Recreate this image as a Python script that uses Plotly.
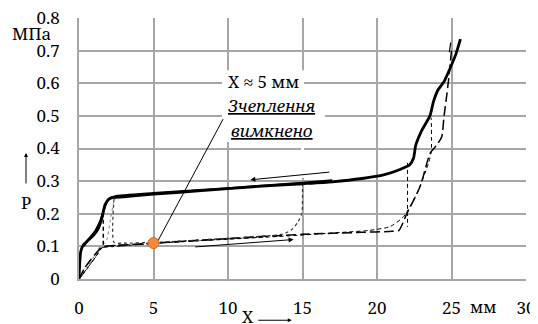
import plotly.graph_objects as go

# ---------------- data ----------------
# upper thick solid curve
up_x = [0, 0.05, 0.12, 0.3, 0.6, 1.0, 1.3, 1.55, 1.75, 2.0, 2.3, 3.0, 5.0, 8.0, 12.0, 15.0, 17.0, 19.0,
        20.5, 21.5, 22.2, 22.45, 22.6, 23.0, 23.55, 23.8, 24.1, 24.5, 24.9, 25.3, 25.6]
up_y = [0, 0.05, 0.085, 0.105, 0.118, 0.135, 0.155, 0.19, 0.228, 0.245, 0.25, 0.252, 0.26, 0.27, 0.284,
        0.292, 0.298, 0.308, 0.32, 0.335, 0.35, 0.37, 0.41, 0.455, 0.5, 0.545, 0.58, 0.605, 0.645, 0.69, 0.735]
# second (return) branch of the thick curve
up2_x = [0.3, 0.7, 1.1, 1.45, 1.65, 1.85, 2.1, 2.4, 5.0, 10.0, 15.0, 17.0]
up2_y = [0.1, 0.125, 0.148, 0.18, 0.21, 0.235, 0.248, 0.253, 0.263, 0.278, 0.295, 0.302]

# lower long-dashed curve
ld_x = [0, 0.4, 0.8, 1.2, 1.5, 2.0, 5.0, 10.0, 15.0, 19.0, 21.0, 21.45, 22.0, 22.9, 23.57, 24.0, 24.35,
        24.5, 24.7, 24.85, 25.0]
ld_y = [0, 0.035, 0.06, 0.082, 0.097, 0.101, 0.11, 0.124, 0.137, 0.143, 0.146, 0.148, 0.2, 0.284, 0.386,
        0.41, 0.437, 0.5, 0.57, 0.63, 0.70]
# small hook at the top of the long-dashed curve
hook_x = [24.85, 24.95]
hook_y = [0.695, 0.725]

# lower short-dashed curve
sd_x = [0, 0.5, 1.0, 1.4, 1.7, 3.0, 8.0, 14.0, 18.0, 19.5, 20.9, 21.8, 22.7, 23.46, 23.64, 23.64]
sd_y = [0, 0.03, 0.06, 0.088, 0.1, 0.104, 0.117, 0.132, 0.144, 0.149, 0.161, 0.192, 0.264, 0.356, 0.39, 0.494]

# vertical dashed transitions
v1_x = [1.63, 1.63]
v1_y = [0.203, 0.105]
v2_x = [22.05, 22.05]
v2_y = [0.356, 0.16]

# dark dotted curve (transition at x = 15 and x = 2.35)
dt_x = [2.35, 2.35, 3.0, 5.4, 10.0, 12.8, 13.7, 14.3, 14.7, 14.96, 15.0, 15.0]
dt_y = [0.246, 0.112, 0.11, 0.113, 0.125, 0.133, 0.138, 0.152, 0.175, 0.202, 0.25, 0.296]
# light dotted curve near the origin
ltd_x = [0, 0.6, 1.1, 1.3, 1.6, 1.86, 2.1, 2.3, 2.42]
ltd_y = [0, 0.04, 0.075, 0.095, 0.105, 0.12, 0.18, 0.23, 0.248]

# dash-dot curve
dd_x = [0, 0.5, 0.9, 1.2, 1.5, 2.5, 6.0, 12.0]
dd_y = [0, 0.028, 0.055, 0.072, 0.095, 0.1, 0.112, 0.128]

# annotation point
pt_x = [5]
pt_y = [0.11]
lead_x = [5.25, 9.67]
lead_y = [0.113, 0.49]

x_ticks = [0, 5, 10, 15, 20, 25, 30]
y_ticks = [0, 0.1, 0.2, 0.3, 0.4, 0.5, 0.6, 0.7, 0.8]
y_ticktext = ["0", "0.1", "0.2", "0.3", "0.4", "0.5", "0.6", "0.7", "0.8"]

FONT = "Noto Serif"
GRID = "#a6a6a6"

fig = go.Figure()

def line(x, y, width=1.0, dash="solid", color="black"):
    fig.add_trace(go.Scatter(x=x, y=y, mode="lines", showlegend=False, hoverinfo="skip",
                             line=dict(color=color, width=width, dash=dash, shape="spline", smoothing=0.6)))

line(ltd_x, ltd_y, 1.0, "dot", "#808080")
line(dd_x, dd_y, 1.0, "dashdot")
line(ld_x, ld_y, 1.5, "10px,4px")
line(hook_x, hook_y, 1.2, "solid")
line(sd_x, sd_y, 1.0, "4px,3px")
line(v1_x, v1_y, 1.5, "4px,3px")
line(v2_x, v2_y, 1.0, "4px,3px")
line(dt_x, dt_y, 1.2, "dot", "#333333")
line(up2_x, up2_y, 2.2)
line(up_x, up_y, 2.8)
line(lead_x, lead_y, 1.0)

fig.add_trace(go.Scatter(x=pt_x, y=pt_y, mode="markers", showlegend=False, hoverinfo="skip",
                         marker=dict(size=11, color="#f08a3c", line=dict(color="#d06a20", width=1))))

# arrows on the curves
fig.add_annotation(x=11.5, y=0.304, ax=16.9, ay=0.328, xref="x", yref="y", axref="x", ayref="y",
                   showarrow=True, arrowhead=2, arrowsize=1, arrowwidth=1, arrowcolor="black", text="")
fig.add_annotation(x=14.4, y=0.121, ax=7.7, ay=0.098, xref="x", yref="y", axref="x", ayref="y",
                   showarrow=True, arrowhead=2, arrowsize=1, arrowwidth=1, arrowcolor="black", text="")

# white background behind the callout text (above gridlines, below traces)
fig.add_shape(type="rect", x0=9.6, x1=15.1, y0=0.549, y1=0.64, xref="x", yref="y",
              fillcolor="white", line=dict(width=0), layer="between")
fig.add_shape(type="rect", x0=9.6, x1=16.5, y0=0.42, y1=0.549, xref="x", yref="y",
              fillcolor="white", line=dict(width=0), layer="between")
fig.add_shape(type="line", x0=15, x1=15, y0=0.31, y1=0.42, xref="x", yref="y",
              line=dict(color="white", width=3), layer="between")

def label(x, y, text, xref="x", yref="y", size=17):
    fig.add_annotation(x=x, y=y, xref=xref, yref=yref, text=text, showarrow=False,
                       xanchor="center", yanchor="middle",
                       font=dict(family=FONT, size=size, color="black"))

label(12.38, 0.604, "X ≈ 5 мм", size=17)
label(12.95, 0.533, "<i><u>Зчеплення</u></i>", size=17)
label(12.92, 0.454, "<i><u>вимкнено</u></i>", size=17)

# axis labels
label(-0.107, 0.939, "МПа", "paper", "paper", 17)
label(-0.1186, 0.295, "P", "paper", "paper", 17)
fig.add_annotation(x=-0.1186, y=0.483, ax=0, ay=32, xref="paper", yref="paper", text="",
                   showarrow=True, arrowhead=2, arrowsize=0.8, arrowwidth=1, arrowcolor="black")
label(11.33, -0.142, "X", "x", "paper", 17)
fig.add_annotation(x=14.28, y=-0.158, ax=-35, ay=0, xref="x", yref="paper", text="",
                   showarrow=True, arrowhead=2, arrowsize=0.8, arrowwidth=1, arrowcolor="black")
label(27.1, -0.107, "мм", "x", "paper", 16)

fig.update_xaxes(range=[0, 30], tickvals=x_ticks, showgrid=True, gridcolor=GRID, gridwidth=1.5,
                 zeroline=False, showline=True, linecolor=GRID, linewidth=1.5, mirror=False, automargin=False,
                 ticks="", ticklabelstandoff=13, ticklabeloverflow="allow",
                 tickfont=dict(family=FONT, size=17, color="black"))
fig.update_yaxes(range=[0, 0.8], tickvals=y_ticks, ticktext=y_ticktext, showgrid=True, gridcolor=GRID,
                 gridwidth=1.5, zeroline=False, showline=True, linecolor=GRID, linewidth=1.5, automargin=False,
                 ticks="", ticklabelstandoff=14, ticklabeloverflow="allow",
                 tickfont=dict(family=FONT, size=17, color="black"))

fig.update_layout(width=530, height=316, margin=dict(l=71, r=12, t=10, b=45),
                  plot_bgcolor="white", paper_bgcolor="white", showlegend=False,
                  font=dict(family=FONT, size=17, color="black"))

fig.write_html("out.html",
               post_script="document.documentElement.style.overflow='hidden';"
                           "document.body.style.overflow='hidden';")
